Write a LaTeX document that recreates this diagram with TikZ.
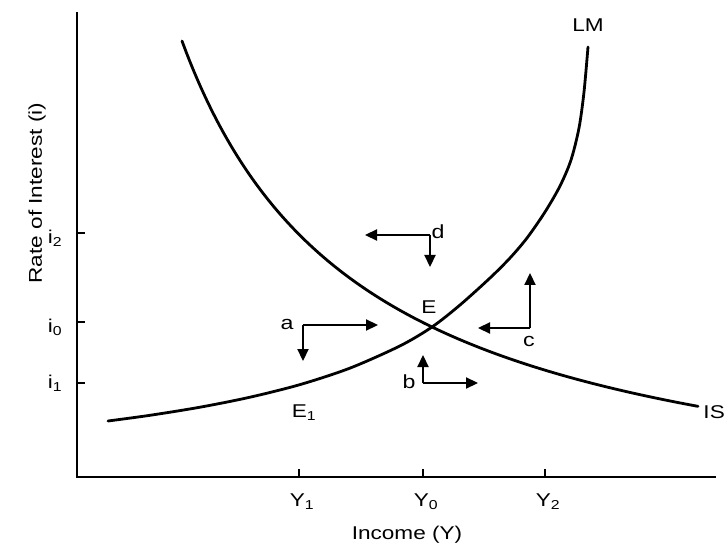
\documentclass[tikz,border=0pt]{standalone}
\usepackage{fontspec}
\setmainfont[FakeStretch=1.22]{Liberation Sans}
\usetikzlibrary{arrows.meta}
\begin{document}
\begin{tikzpicture}[x=1pt,y=-1pt,
  axis/.style={line width=2.6pt},
  curve/.style={line width=2.8pt,line cap=round},
  tick/.style={line width=2pt},
  move/.style={line width=2.2pt,-{Triangle[length=12pt,width=11pt]}},
  lbl/.style={font=\fontsize{18.5}{20}\selectfont,inner sep=0pt},
  sm/.style={font=\fontsize{19}{20}\selectfont,inner sep=0pt}]
\useasboundingbox (0,0) rectangle (726,548);
% axes
\coordinate (O) at (77,477);
\coordinate (ytop) at (77,12);
\coordinate (xend) at (716,477);
\draw[axis] (ytop) -- (O) -- (xend);
% y ticks
\coordinate (ti2) at (77,233); \coordinate (ti0) at (77,322); \coordinate (ti1) at (77,383);
\foreach \c in {ti2,ti0,ti1} \draw[tick] (\c) -- ++(8,0);
\node[lbl] (i2) at (55,238) {i\textsubscript{2}};
\node[lbl] (i0) at (55,327) {i\textsubscript{0}};
\node[lbl] (i1) at (55,383) {i\textsubscript{1}};
% x ticks
\coordinate (tY1) at (299,477); \coordinate (tY0) at (423,477); \coordinate (tY2) at (545,477);
\foreach \c in {tY1,tY0,tY2} \draw[tick] (\c) -- ++(0,-8);
\node[lbl] (Y1) at (302,502) {Y\textsubscript{1}};
\node[lbl] (Y0) at (426,502) {Y\textsubscript{0}};
\node[lbl] (Y2) at (548,502) {Y\textsubscript{2}};
\node[lbl] (xlab) at (407,535) {Income (Y)};
\node[lbl,rotate=90] (ylab) at (37,193) {Rate of Interest (i)};
% LM curve
\draw[curve] plot[smooth,tension=0.5] coordinates {(108,421) (150,415.3) (200,407.2) (250,397.2) (300,384.6) (350,368.1) (400,345.9) (432,327) (460,305) (490,278) (510,258) (527,238) (545,212) (560,186) (571,160) (579,128) (584,92) (588,47)};
\node[lbl] (LM) at (588,25) {LM};
% IS curve
\draw[curve] plot[domain=182:698,samples=120,smooth] (\x,{535.2-899.45/(\x/100)});
\node[lbl,anchor=east] (IS) at (725,412) {IS};
\node[lbl] (E) at (429,307) {E};
\node[lbl] (E1) at (304,413) {E\textsubscript{1}};
% arrow a
\coordinate (ca) at (303,325);
\coordinate (ah) at (378,325); \coordinate (av) at (303,361);
\draw[move] (ca) -- (ah); \draw[move] (ca) -- (av);
\node[sm] (a) at (287,324) {a};
% arrow b
\coordinate (cb) at (423,383);
\coordinate (bh) at (478,383); \coordinate (bv) at (423,355);
\draw[move] (cb) -- (bh); \draw[move] (cb) -- (bv);
\node[sm] (b) at (409,382) {b};
% arrow c
\coordinate (cc) at (530,328);
\coordinate (ch) at (478,328); \coordinate (cv) at (530,273);
\draw[move] (cc) -- (ch); \draw[move] (cc) -- (cv);
\node[sm] (c) at (529,341) {c};
% arrow d
\coordinate (cd) at (430,235);
\coordinate (dh) at (365,235); \coordinate (dv) at (430,267);
\draw[move] (cd) -- (dh); \draw[move] (cd) -- (dv);
\node[sm] (d) at (438,232) {d};
\end{tikzpicture}
\end{document}
